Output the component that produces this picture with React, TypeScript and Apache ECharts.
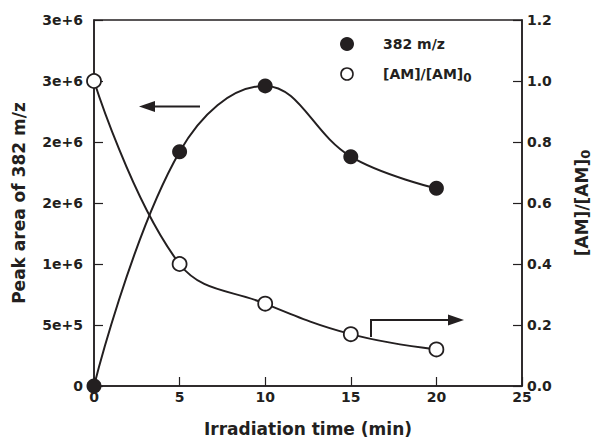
import React, { useEffect, useRef } from "react";
import * as echarts from "echarts";

const times = [0, 5, 10, 15, 20];
const peakArea = [0, 1.92e6, 2.46e6, 1.88e6, 1.62e6];
const amRatio = [1.0, 0.4, 0.27, 0.17, 0.12];
const leftTickLabels = ["0", "5e+5", "1e+6", "2e+6", "2e+6", "3e+6", "3e+6"];
const xTicks = { min: 0, max: 25, interval: 5 };
const rightTicks = { min: 0, max: 1.2, interval: 0.2 };
const legendNames = ["382 m/z", "[AM]/[AM]{s|0}"];

const INK = "#231f20";
const FONT = "DejaVu Sans";

export default function App() {
  const ref = useRef<HTMLDivElement>(null);
  useEffect(() => {
    document.body.style.margin = "0";
    const chart = echarts.init(ref.current!, null, { renderer: "svg" });
    const axisLabelStyle = { color: INK, fontFamily: FONT, fontWeight: "bold" as const, fontSize: 14 };
    const nameStyle = { color: INK, fontFamily: FONT, fontWeight: "bold" as const, fontSize: 17 };
    const subStyle = { color: INK, fontFamily: FONT, fontWeight: "bold" as const, fontSize: 12, padding: [8, 0, 0, 0] };
    chart.setOption({
      animation: false,
      backgroundColor: "#fff",
      grid: {
        left: 94,
        right: 71,
        top: 20,
        bottom: 57,
        containLabel: false,
        outerBoundsMode: "none",
        show: true,
        borderColor: INK,
        borderWidth: 1.5,
      },
      xAxis: {
        type: "value",
        ...xTicks,
        name: "Irradiation time (min)",
        nameLocation: "middle",
        nameGap: 34,
        nameTextStyle: nameStyle,
        axisLine: { lineStyle: { color: INK, width: 1.5 } },
        axisTick: { inside: true, length: 9, lineStyle: { color: INK, width: 1.2 } },
        axisLabel: { ...axisLabelStyle, margin: 4 },
        splitLine: { show: false },
      },
      yAxis: [
        {
          type: "value",
          min: 0,
          max: 3e6,
          interval: 5e5,
          name: "Peak area of 382 m/z",
          nameLocation: "middle",
          nameGap: 67,
          nameRotate: 90,
          nameTextStyle: nameStyle,
          axisLine: { show: true, lineStyle: { color: INK, width: 1.5 } },
          axisTick: { show: true, inside: true, length: 9, lineStyle: { color: INK, width: 1.2 } },
          axisLabel: { ...axisLabelStyle, margin: 11, formatter: (_v: number, i: number) => leftTickLabels[i] ?? "" },
          splitLine: { show: false },
        },
        {
          type: "value",
          ...rightTicks,
          position: "right",
          name: "[AM]/[AM]{s|0}",
          nameLocation: "middle",
          nameGap: 49,
          nameRotate: 90,
          nameTextStyle: { ...nameStyle, rich: { s: { ...subStyle, fontSize: 13 } } },
          axisLine: { show: true, lineStyle: { color: INK, width: 1.5 } },
          axisTick: { show: true, inside: true, length: 9, lineStyle: { color: INK, width: 1.2 } },
          axisLabel: { ...axisLabelStyle, margin: 5, formatter: (v: number) => v.toFixed(1) },
          splitLine: { show: false },
        },
      ],
      series: [
        {
          name: "382 m/z",
          type: "line",
          yAxisIndex: 0,
          smooth: 0.4,
          symbol: "circle",
          symbolSize: 15,
          data: times.map((t, i) => [t, peakArea[i]]),
          lineStyle: { color: INK, width: 2 },
          itemStyle: { color: INK, borderWidth: 0 },
          z: 3,
        },
        {
          name: "[AM]/[AM]0",
          type: "line",
          yAxisIndex: 1,
          smooth: 0.4,
          symbol: "circle",
          symbolSize: 14,
          data: times.map((t, i) => [t, amRatio[i]]),
          lineStyle: { color: INK, width: 2 },
          itemStyle: { color: "#fff", borderColor: INK, borderWidth: 1.8 },
          z: 3,
        },
      ],
      graphic: [
        // legend
        { type: "circle", shape: { cx: 347, cy: 44, r: 7 }, style: { fill: INK } },
        {
          type: "text",
          x: 383,
          y: 44,
          style: { text: legendNames[0], ...axisLabelStyle, fill: INK, verticalAlign: "middle" },
        },
        { type: "circle", shape: { cx: 347, cy: 74, r: 6 }, style: { fill: "#fff", stroke: INK, lineWidth: 1.6 } },
        {
          type: "text",
          x: 383,
          y: 74,
          style: {
            text: legendNames[1],
            ...axisLabelStyle,
            fill: INK,
            verticalAlign: "middle",
            rich: { s: { ...subStyle, fill: INK } },
          },
        },
        // arrows
        { type: "line", shape: { x1: 200, y1: 106.5, x2: 152, y2: 106.5 }, style: { stroke: INK, lineWidth: 2 } },
        { type: "polygon", shape: { points: [[139, 106.5], [155, 101], [155, 112]] }, style: { fill: INK } },
        { type: "polyline", shape: { points: [[371, 337], [371, 320], [450, 320]] }, style: { stroke: INK, lineWidth: 2, fill: "none" } },
        { type: "polygon", shape: { points: [[464, 320], [448, 314.5], [448, 325.5]] }, style: { fill: INK } },
      ],
    });
    return () => chart.dispose();
  }, []);
  return <div ref={ref} style={{ position: "absolute", left: 0, top: 0, width: 593, height: 443 }} />;
}
